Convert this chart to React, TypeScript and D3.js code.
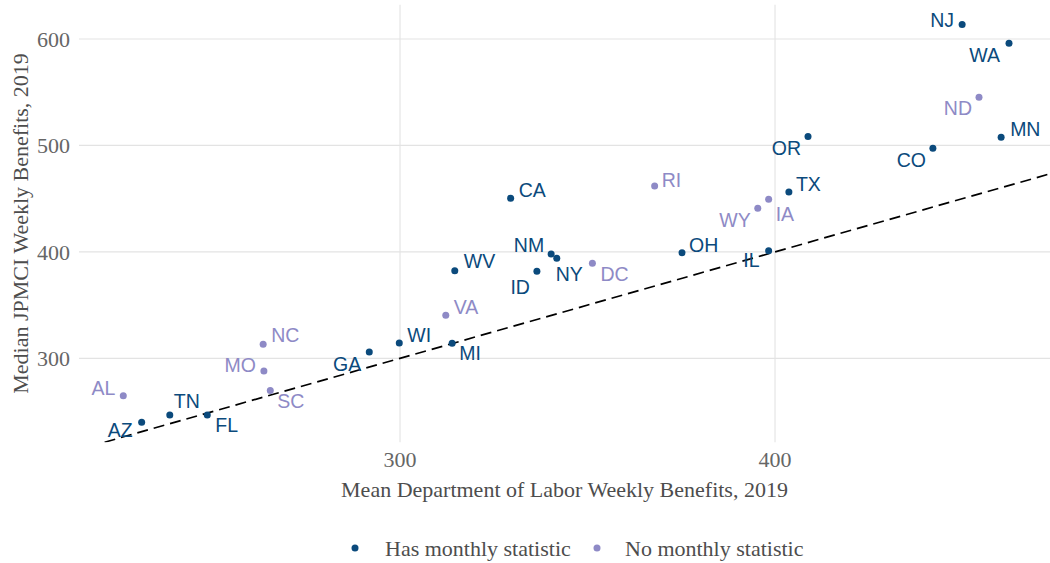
import React from "react";
import * as d3 from "d3";

// ---- data ----
const states = ["NJ","WA","ND","MN","CO","OR","TX","IA","WY","RI","OH","IL","CA","NM","NY","DC","ID","WV","VA","WI","MI","GA","NC","MO","SC","AL","TN","FL","AZ"];
const dolMean = [449.9,462.4,454.4,460.3,442.1,408.8,403.7,398.3,395.4,367.9,375.2,398.3,329.5,340.3,341.8,351.3,336.5,314.6,312.2,299.8,313.9,291.8,263.5,263.7,265.4,226.2,238.6,248.6,231.1];
const jpmciMedian = [613.5,596.0,545.3,507.7,497.4,508.3,456.3,449.4,441.0,461.9,399.2,401.1,450.4,398.0,394.0,389.3,381.8,382.3,340.4,314.4,314.1,305.9,313.2,288.1,269.9,264.8,246.7,246.7,239.9];
const hasMonthly = [true,true,false,true,true,true,true,false,false,false,true,true,true,true,true,false,true,true,false,true,true,true,false,false,false,false,true,true,true];
const xTicks = [300, 400];
const yTicks = [300, 400, 500, 600];
const legendLabels = ["Has monthly statistic", "No monthly statistic"];
const xTitle = "Mean Department of Labor Weekly Benefits, 2019";
const yTitle = "Median JPMCI Weekly Benefits, 2019";

// label placement (anchor, dx, dy) relative to each point
const labelPlacement: Record<string, [string, number, number]> = {
  NJ: ["end", -8, 2.5], WA: ["end", -9, 19], ND: ["end", -7, 18], MN: ["start", 9, -1],
  CO: ["end", -7, 19], OR: ["end", -7, 18], TX: ["start", 7, -1], IA: ["start", 7, 22],
  WY: ["end", -7, 19], RI: ["start", 7, 1], OH: ["start", 7, -1], IL: ["end", -9, 16],
  CA: ["start", 8, -1], NM: ["end", -7, -2], NY: ["start", -1, 23], DC: ["start", 8, 18],
  ID: ["end", -7, 23], WV: ["start", 9, -3], VA: ["start", 8, -1], WI: ["start", 8, -1],
  MI: ["start", 7, 17], GA: ["end", -8, 19], NC: ["start", 8, -2], MO: ["end", -8, 1],
  SC: ["start", 7, 18], AL: ["end", -8, -1], TN: ["start", 4, -7], FL: ["start", 8, 17],
  AZ: ["end", -9, 15],
};

const COL_HAS = "#0B4A7C";
const COL_NO = "#8E8AC6";
const W = 1050, H = 563;
const panel = { left: 79, right: 1050, top: 4.7, bottom: 442.2 };

export default function App() {
  const xExt = d3.extent(dolMean) as [number, number];
  const yExt = d3.extent(jpmciMedian) as [number, number];
  const xPad = (xExt[1] - xExt[0]) * 0.05;
  const yPad = (yExt[1] - yExt[0]) * 0.05;
  const x = d3.scaleLinear().domain([xExt[0] - xPad, 300 + (panel.right - 400) / 3.75]).range([panel.left, panel.right]);
  const y = d3.scaleLinear().domain([yExt[0] - yPad, yExt[1] + yPad]).range([panel.bottom, panel.top]);
  const [x0, x1] = x.domain();
  const [y0, y1] = y.domain();
  const lineStart = Math.max(x0, y0);
  const lineEnd = Math.min(x1, y1);
  const diag = d3.line<number>().x((v) => x(v)).y((v) => y(v))([lineStart, lineEnd]) || "";
  const serif = "'Liberation Serif', 'Times New Roman', serif";
  const sans = "'Liberation Sans', Arial, sans-serif";
  const cx = (panel.left + panel.right) / 2;
  const cy = (panel.top + panel.bottom) / 2;
  return (
    <svg width={W} height={H} style={{ position: "absolute", left: 0, top: 0, display: "block", background: "#fff" }}>
      <defs>
        <clipPath id="pclip">
          <rect x={panel.left} y={panel.top} width={panel.right - panel.left} height={panel.bottom - panel.top} />
        </clipPath>
      </defs>
      {yTicks.map((t) => (
        <line key={"gy" + t} x1={panel.left} x2={panel.right} y1={y(t)} y2={y(t)} stroke="#E3E3E3" strokeWidth={1.1} />
      ))}
      {xTicks.map((t) => (
        <line key={"gx" + t} x1={x(t)} x2={x(t)} y1={panel.top} y2={panel.bottom} stroke="#E3E3E3" strokeWidth={1.1} />
      ))}
      <path d={diag} clipPath="url(#pclip)" fill="none" stroke="#000" strokeWidth={1.7} strokeDasharray="11,6" />
      {states.map((s, i) => (
        <circle key={"p" + s} cx={x(dolMean[i])} cy={y(jpmciMedian[i])} r={3.5} fill={hasMonthly[i] ? COL_HAS : COL_NO} />
      ))}
      {states.map((s, i) => {
        const [anchor, dx, dy] = labelPlacement[s];
        return (
          <text key={"l" + s} x={x(dolMean[i]) + dx} y={y(jpmciMedian[i]) + dy} textAnchor={anchor as any}
            fontFamily={sans} fontSize={19.5} fill={hasMonthly[i] ? COL_HAS : COL_NO}>{s}</text>
        );
      })}
      {yTicks.map((t) => (
        <text key={"ty" + t} x={70} y={y(t)} dy="0.35em" textAnchor="end" fontFamily={serif} fontSize={22} fill="#666">{t}</text>
      ))}
      {xTicks.map((t) => (
        <text key={"tx" + t} x={x(t)} y={467} textAnchor="middle" fontFamily={serif} fontSize={22} fill="#666">{t}</text>
      ))}
      <text x={cx} y={497} textAnchor="middle" fontFamily={serif} fontSize={22} fill="#4D4D4D">{xTitle}</text>
      <text transform={`translate(28,${cy}) rotate(-90)`} textAnchor="middle" fontFamily={serif} fontSize={22} fill="#4D4D4D">{yTitle}</text>
      <g>
        <circle cx={355} cy={548} r={3.5} fill={COL_HAS} />
        <text x={385} y={556} fontFamily={serif} fontSize={22} fill="#4D4D4D">{legendLabels[0]}</text>
        <circle cx={597} cy={548} r={3.5} fill={COL_NO} />
        <text x={625} y={556} fontFamily={serif} fontSize={22} fill="#4D4D4D">{legendLabels[1]}</text>
      </g>
    </svg>
  );
}
